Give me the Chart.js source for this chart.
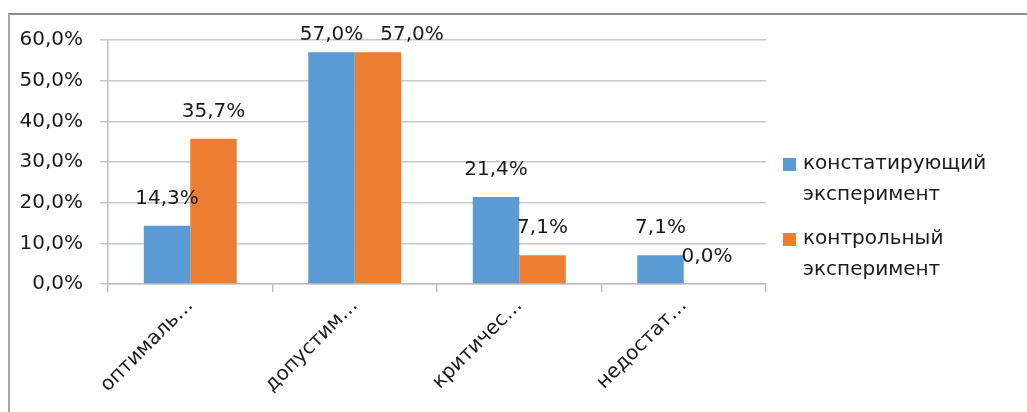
<!DOCTYPE html>
<html lang="ru">
<head>
<meta charset="utf-8">
<title>Эксперимент</title>
<script src="https://cdn.jsdelivr.net/npm/chart.js@4.4.1/dist/chart.umd.min.js"></script>
<style>
  html, body { margin: 0; padding: 0; background: #fff; }
  #wrap { position: relative; width: 1027px; height: 412px; }
  #frame {
    position: absolute; left: 8px; top: 13px; right: 0; bottom: -5px;
    border-top: 2px solid #8f8f8f; border-left: 2px solid #a6a6a6;
  }
  #wrap canvas { position: absolute; left: 0; top: 0; }
</style>
</head>
<body>
<div id="wrap">
  <div id="frame"></div>
  <canvas id="barChart"></canvas>
</div>
<script>
// подписи категорий (усечены как на оси)
const categories = ['оптималь…', 'допустим…', 'критичес…', 'недостат…'];
const seriesNames = ['констатирующий эксперимент', 'контрольный эксперимент'];
const legendLines = [['констатирующий', 'эксперимент'], ['контрольный', 'эксперимент']];
// значения в процентах
const valuesKonst = [14.3, 57.0, 21.4, 7.1];
const valuesKontr = [35.7, 57.0, 7.1, 0.0];
const yTicks = [0, 10, 20, 30, 40, 50, 60];

const FONT = '"DejaVu Sans", sans-serif';
const SIZE = 20;
const fmt = v => v.toFixed(1).replace('.', ',') + '%';

// подписи значений над столбцами; если подписи в одной группе
// налезают друг на друга, вторую сдвигаем вправо
const valueLabels = {
  id: 'valueLabels',
  afterDatasetsDraw(chart) {
    const ctx = chart.ctx;
    ctx.save();
    ctx.font = SIZE + 'px ' + FONT;
    ctx.fillStyle = '#1a1a1a';
    ctx.textAlign = 'center';
    ctx.textBaseline = 'middle';
    const n = chart.data.labels.length;
    for (let j = 0; j < n; j++) {
      let prev = null;
      chart.data.datasets.forEach((ds, i) => {
        const bar = chart.getDatasetMeta(i).data[j];
        const text = fmt(ds.data[j]);
        const w = ctx.measureText(text).width;
        const y = Math.max(bar.y - 27, 35);
        let x = bar.x;
        if (prev && Math.abs(prev.y - y) < SIZE && x - w / 2 < prev.right) {
          x = prev.right + 17 + w / 2;
        }
        ctx.fillText(text, x, y);
        prev = { y: y, right: x + w / 2 };
      });
    }
    ctx.restore();
  }
};

// легенда справа, подписи в две строки
const sideLegend = {
  id: 'sideLegend',
  afterDraw(chart) {
    const ctx = chart.ctx;
    ctx.save();
    ctx.font = SIZE + 'px ' + FONT;
    ctx.textBaseline = 'middle';
    const tops = [164, 239];
    chart.data.datasets.forEach((ds, i) => {
      const y = tops[i];
      ctx.fillStyle = ds.backgroundColor;
      ctx.fillRect(783, y - 6, 13, 13);
      ctx.fillStyle = '#1a1a1a';
      legendLines[i].forEach((line, k) => ctx.fillText(line, 803, y + k * 31));
    });
    ctx.restore();
  }
};

new Chart(document.getElementById('barChart'), {
  type: 'bar',
  data: {
    labels: categories,
    datasets: [
      { label: seriesNames[0], data: valuesKonst, backgroundColor: '#5B9BD5' },
      { label: seriesNames[1], data: valuesKontr, backgroundColor: '#ED7D31' }
    ]
  },
  options: {
    responsive: true,
    maintainAspectRatio: false,
    animation: false,
    categoryPercentage: 0.565,
    barPercentage: 1.0,
    layout: { padding: { left: 0, top: 40, right: 261, bottom: 0 } },
    plugins: {
      legend: { display: false },
      tooltip: { enabled: false }
    },
    scales: {
      x: {
        afterFit(scale) { scale.height = 128; },
        grid: {
          offset: true,
          drawOnChartArea: false,
          drawTicks: true,
          tickLength: 8,
          color: '#bfbfbf',
          lineWidth: 1.5
        },
        border: { color: '#bfbfbf', width: 1.5 },
        ticks: {
          color: '#1a1a1a',
          font: { family: FONT, size: SIZE },
          minRotation: 45,
          maxRotation: 45,
          padding: 2
        }
      },
      y: {
        min: 0,
        max: 60,
        afterFit(scale) { scale.width = 108; },
        afterBuildTicks(scale) { scale.ticks = yTicks.map(v => ({ value: v })); },
        grid: { color: '#c8c8c8', lineWidth: 1.5, tickLength: 8 },
        border: { color: '#bfbfbf', width: 1.5 },
        ticks: {
          color: '#1a1a1a',
          font: { family: FONT, size: SIZE },
          padding: 17,
          callback: v => fmt(v)
        }
      }
    }
  },
  plugins: [valueLabels, sideLegend]
});
</script>
</body>
</html>
